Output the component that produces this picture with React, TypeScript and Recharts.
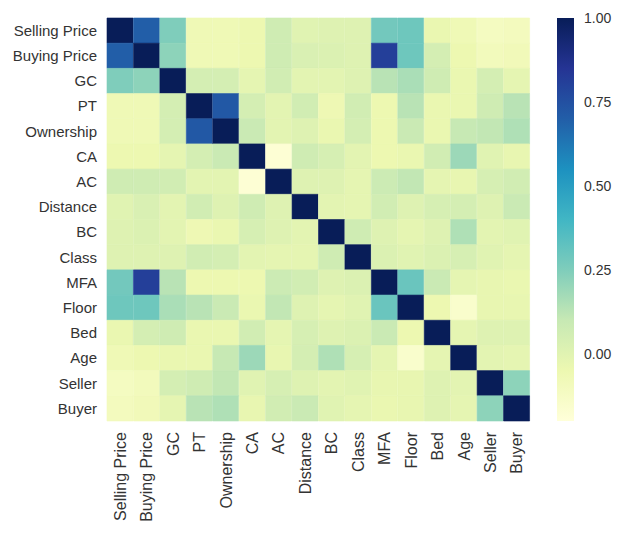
import { BarChart, Bar, XAxis, YAxis, Cell } from "recharts";

const labels = [
  "Selling Price", "Buying Price", "GC", "PT", "Ownership", "CA", "AC", "Distance",
  "BC", "Class", "MFA", "Floor", "Bed", "Age", "Seller", "Buyer",
];

// correlation matrix, row by row
const corr = [
  [1, 0.7, 0.25, -0.07, -0.07, -0.05, 0.07, 0.0, 0.01, 0.01, 0.28, 0.29, -0.04, -0.07, -0.11, -0.1],
  [0.7, 1, 0.22, -0.07, -0.07, -0.05, 0.07, 0.03, 0.02, 0.01, 0.81, 0.29, 0.05, -0.05, -0.09, -0.08],
  [0.25, 0.22, 1, 0.05, 0.05, -0.02, 0.06, -0.01, -0.01, 0.01, 0.13, 0.16, 0.07, -0.04, 0.05, -0.02],
  [-0.07, -0.07, 0.05, 1, 0.72, 0.05, -0.01, 0.06, -0.06, 0.06, -0.05, 0.13, -0.04, -0.04, 0.07, 0.13],
  [-0.07, -0.07, 0.05, 0.72, 1, 0.09, -0.01, 0.01, -0.04, 0.05, -0.05, 0.09, -0.04, 0.1, 0.11, 0.15],
  [-0.05, -0.05, -0.02, 0.05, 0.09, 1, -0.18, 0.07, 0.04, -0.01, -0.05, -0.04, 0.06, 0.19, 0.0, -0.03],
  [0.07, 0.07, 0.06, -0.01, -0.01, -0.18, 1, 0.01, 0.01, -0.02, 0.08, 0.11, -0.02, -0.03, 0.04, 0.06],
  [0.0, 0.03, -0.01, 0.06, 0.01, 0.07, 0.01, 1, -0.01, -0.02, 0.06, 0.01, 0.04, 0.05, 0.01, 0.09],
  [0.01, 0.02, -0.01, -0.06, -0.04, 0.04, 0.01, -0.01, 1, 0.07, 0.01, -0.02, 0.01, 0.15, -0.01, 0.0],
  [0.01, 0.01, 0.01, 0.06, 0.05, -0.01, -0.02, -0.02, 0.07, 1, 0.02, 0.0, 0.02, 0.04, 0.0, -0.02],
  [0.28, 0.81, 0.13, -0.05, -0.05, -0.05, 0.08, 0.06, 0.01, 0.02, 1, 0.3, 0.09, -0.02, -0.03, -0.04],
  [0.29, 0.29, 0.16, 0.13, 0.09, -0.04, 0.11, 0.01, -0.02, 0.0, 0.3, 1, -0.05, -0.15, -0.03, -0.03],
  [-0.04, 0.05, 0.07, -0.04, -0.04, 0.06, -0.02, 0.04, 0.01, 0.02, 0.09, -0.05, 1, -0.02, 0.01, 0.01],
  [-0.07, -0.05, -0.04, -0.04, 0.1, 0.19, -0.03, 0.05, 0.15, 0.04, -0.02, -0.15, -0.02, 1, -0.01, -0.02],
  [-0.11, -0.09, 0.05, 0.07, 0.11, 0.0, 0.04, 0.01, -0.01, 0.0, -0.03, -0.03, 0.01, -0.01, 1, 0.22],
  [-0.1, -0.08, -0.02, 0.13, 0.15, -0.03, 0.06, 0.09, 0.0, -0.02, -0.04, -0.03, 0.01, -0.02, 0.22, 1],
];

const colorTicks = [0, 0.25, 0.5, 0.75, 1];
const vmin = -0.2;
const vmax = 1.0;

// YlGnBu
const YL = [
  [255, 255, 217], [237, 248, 177], [199, 233, 180], [127, 205, 187], [65, 182, 196],
  [29, 145, 192], [34, 94, 168], [37, 52, 148], [8, 29, 88],
];

function ylgnbu(v: number) {
  let t = (v - vmin) / (vmax - vmin);
  t = Math.max(0, Math.min(1, t));
  const p = t * (YL.length - 1);
  const i = Math.min(YL.length - 2, Math.floor(p));
  const f = p - i;
  const c = YL[i].map((a, k) => Math.round(a + (YL[i + 1][k] - a) * f));
  return `rgb(${c[0]},${c[1]},${c[2]})`;
}

// one entry per column; each row is a stacked segment of height 1
const data = labels.map((name) => {
  const o: Record<string, any> = { name };
  labels.forEach((_, r) => (o[`r${r}`] = 1));
  return o;
});

const font = "'Liberation Sans', Arial, sans-serif";
const textColor = "#333";

const XTick = ({ x, y, payload }: any) => (
  <g transform={`translate(${x},${y})`}>
    <text
      transform="rotate(-90)"
      x={-3}
      dy="0.35em"
      textAnchor="end"
      fill={textColor}
      fontSize={16}
      fontFamily={font}
    >
      {payload.value}
    </text>
  </g>
);

const cbData = [{ name: "cb", range: [vmin, vmax] }];

export default function App() {
  return (
    <div style={{ position: "absolute", left: 0, top: 0, width: 617, height: 542, background: "#fff" }}>
      <div style={{ position: "absolute", left: 0, top: 0 }}>
        <BarChart
          width={540}
          height={542}
          data={data}
          barCategoryGap={0}
          margin={{ top: 18, right: 10, bottom: 10, left: 0 }}
        >
          <XAxis
            dataKey="name"
            interval={0}
            axisLine={false}
            tickLine={false}
            height={111}
            tick={<XTick />}
          />
          <YAxis
            type="number"
            domain={[0, 16]}
            reversed
            width={107}
            ticks={labels.map((_, i) => i + 0.5)}
            interval={0}
            tickFormatter={(v: number) => labels[Math.floor(v)]}
            axisLine={false}
            tickLine={false}
            tickMargin={4}
            tick={{ fill: textColor, fontSize: 15, fontFamily: font }}
          />
          {labels.map((_, r) => (
            <Bar key={r} dataKey={`r${r}`} stackId="m" isAnimationActive={false}>
              {labels.map((__, c) => (
                <Cell key={c} fill={ylgnbu(corr[r][c])} stroke={ylgnbu(corr[r][c])} strokeWidth={0.6} />
              ))}
            </Bar>
          ))}
        </BarChart>
      </div>
      <div style={{ position: "absolute", left: 550, top: 0 }}>
        <BarChart
          width={67}
          height={542}
          data={cbData}
          barCategoryGap={0}
          margin={{ top: 18, right: 0, bottom: 121, left: 7 }}
        >
          <defs>
            <linearGradient id="cbar" x1="0" y1="0" x2="0" y2="1">
              {YL.map((c, k) => (
                <stop
                  key={k}
                  offset={k / (YL.length - 1)}
                  stopColor={`rgb(${YL[YL.length - 1 - k].join(",")})`}
                />
              ))}
            </linearGradient>
          </defs>
          <XAxis dataKey="name" hide />
          <YAxis
            orientation="right"
            type="number"
            domain={[vmin, vmax]}
            ticks={colorTicks}
            width={43}
            tickFormatter={(v: number) => v.toFixed(2)}
            axisLine={false}
            tickLine={false}
            tickMargin={4}
            tick={{ fill: textColor, fontSize: 14, fontFamily: font }}
          />
          <Bar dataKey="range" fill="url(#cbar)" isAnimationActive={false} />
        </BarChart>
      </div>
    </div>
  );
}
